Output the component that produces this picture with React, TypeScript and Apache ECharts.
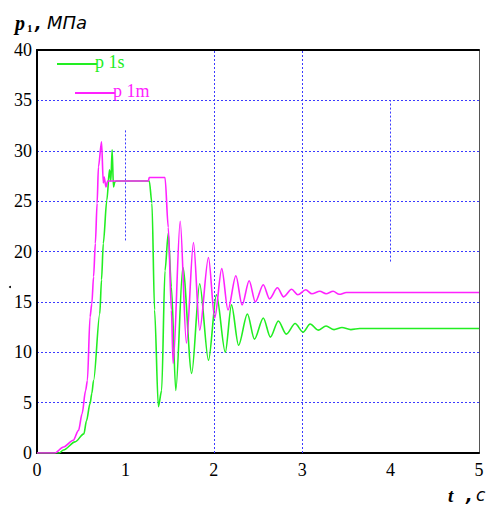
import React, { useEffect, useRef } from 'react';
import * as echarts from 'echarts';

// p1s (green) — time, value
const tP1s = [0, 0.25, 0.3, 0.43, 0.53, 0.56, 0.6, 0.62, 0.64, 0.71, 0.73, 0.75, 0.79, 0.82, 0.835, 0.85, 0.865, 0.88, 0.9, 1.27, 1.3, 1.33, 1.373, 1.41, 1.448, 1.485, 1.52, 1.57, 1.65, 1.75, 1.84, 1.94, 2.03, 2.13, 2.2, 2.28, 2.38, 2.46, 2.56, 2.64, 2.73, 2.82, 2.92, 3.01, 3.09, 3.18, 3.27, 3.36, 3.45, 3.55, 3.65, 5.0];
const vP1s = [0, 0, 0.3, 1.1, 1.9, 3.2, 4.9, 5.9, 7.2, 13.8, 17.2, 20.8, 25.1, 28.1, 27.0, 30.1, 26.4, 26.9, 27.0, 27.0, 24.8, 14.2, 4.6, 6.2, 18.1, 21.8, 16.5, 6.2, 18.4, 7.9, 16.8, 9.2, 15.7, 10.0, 14.7, 10.7, 13.8, 11.3, 13.4, 11.5, 13.1, 11.8, 12.85, 12.0, 12.8, 12.2, 12.6, 12.25, 12.45, 12.25, 12.35, 12.35];

// p1m (magenta) — time, value
const tP1m = [0, 0.2, 0.3, 0.41, 0.47, 0.51, 0.55, 0.57, 0.6, 0.62, 0.64, 0.66, 0.68, 0.695, 0.73, 0.75, 0.76, 0.78, 0.8, 1.26, 1.27, 1.448, 1.485, 1.52, 1.54, 1.62, 1.69, 1.77, 1.84, 1.94, 2.01, 2.09, 2.16, 2.25, 2.32, 2.4, 2.47, 2.56, 2.63, 2.72, 2.79, 2.88, 2.95, 3.04, 3.11, 3.2, 3.27, 3.35, 3.42, 3.5, 5.0];
const vP1m = [0, 0, 0.6, 1.26, 2.25, 3.9, 6.2, 7.2, 13.5, 14.8, 17.5, 20.8, 24.8, 28.4, 30.9, 26.8, 27.4, 26.4, 27.0, 27.0, 27.35, 27.35, 22.4, 14.2, 8.9, 23.0, 10.9, 20.9, 12.2, 19.4, 13.4, 18.3, 14.2, 17.6, 14.7, 17.1, 15.0, 16.7, 15.3, 16.4, 15.5, 16.25, 15.7, 16.2, 15.8, 16.05, 15.8, 16.05, 15.75, 15.93, 15.93];

const xTicks = [0, 1, 2, 3, 4, 5];
const yTicks = [0, 5, 10, 15, 20, 25, 30, 35, 40];
// vertical dotted guides: [t, from, to]
const vGuides = [
  [1, 21.1, 32.2],
  [2, 0, 40],
  [3, 0, 40],
  [4, 19, 35],
];
const seriesNames = ['p 1s', 'p 1m'];

const GREEN = '#22ee22';
const MAGENTA = '#ff22ff';
const GRIDBLUE = '#3a3aff';
const SERIF = '"Liberation Serif", "Times New Roman", serif';
const SANS = '"DejaVu Sans", Arial, sans-serif';

export default function App() {
  const ref = useRef<HTMLDivElement>(null);
  useEffect(() => {
    document.body.style.margin = '0';
    const chart = echarts.init(ref.current!, null, { renderer: 'svg' });
    const xMin = xTicks[0];
    const xMax = xTicks[xTicks.length - 1];
    const yMin = yTicks[0];
    const yMax = yTicks[yTicks.length - 1];
    const xInt = xTicks[1] - xTicks[0];
    const yInt = yTicks[1] - yTicks[0];
    chart.setOption({
      animation: false,
      backgroundColor: '#ffffff',
      grid: { left: 37, top: 50, width: 442, height: 403, containLabel: false },
      xAxis: [
        {
          type: 'value', min: xMin, max: xMax, interval: xInt, position: 'bottom',
          axisLine: { show: true, onZero: false, lineStyle: { color: '#000', width: 2 } },
          axisTick: { show: false },
          splitLine: { show: false },
          axisLabel: { fontFamily: SERIF, fontSize: 18, color: '#000', margin: 8 },
        },
        {
          type: 'value', min: xMin, max: xMax, interval: xInt, position: 'top',
          axisLine: { show: true, onZero: false, lineStyle: { color: '#000', width: 2 } },
          axisTick: { show: false }, splitLine: { show: false }, axisLabel: { show: false },
        },
      ],
      yAxis: [
        {
          type: 'value', min: yMin, max: yMax, interval: yInt, position: 'left',
          axisLine: { show: true, onZero: false, lineStyle: { color: '#000', width: 2 } },
          axisTick: { show: false },
          splitLine: { show: true, lineStyle: { color: GRIDBLUE, width: 1, type: [2, 2] } },
          axisLabel: { fontFamily: SERIF, fontSize: 18, color: '#000', margin: 5 },
        },
        {
          type: 'value', min: yMin, max: yMax, interval: yInt, position: 'right',
          axisLine: { show: true, onZero: false, lineStyle: { color: '#555', width: 1 } },
          axisTick: { show: false }, splitLine: { show: false }, axisLabel: { show: false },
        },
      ],
      series: [
        {
          name: seriesNames[0],
          type: 'line',
          data: tP1s.map((t, i) => [t, vP1s[i]]),
          showSymbol: false,
          smooth: 0.3,
          smoothMonotone: 'x',
          lineStyle: { color: GREEN, width: 1.6 },
          z: 3,
          markLine: {
            silent: true,
            symbol: 'none',
            label: { show: false },
            lineStyle: { color: GRIDBLUE, width: 1, type: [2, 2] },
            z: 1,
            data: vGuides.map(([t, a, b]) => [{ coord: [t, a] }, { coord: [t, b] }]),
          },
        },
        {
          name: seriesNames[1],
          type: 'line',
          data: tP1m.map((t, i) => [t, vP1m[i]]),
          showSymbol: false,
          smooth: 0.3,
          smoothMonotone: 'x',
          lineStyle: { color: MAGENTA, width: 1.6 },
          z: 4,
        },
      ],
      graphic: [
        // title p1 , МПа
        { type: 'text', x: 15, y: 23, style: { text: 'p', font: `italic bold 20px ${SERIF}`, fill: '#000', textVerticalAlign: 'middle' } },
        { type: 'text', x: 27, y: 28, style: { text: '1', font: `bold 11px ${SERIF}`, fill: '#000', textVerticalAlign: 'middle' } },
        { type: 'text', x: 35, y: 23, style: { text: ',', font: `italic bold 17px ${SANS}`, fill: '#000', textVerticalAlign: 'middle' } },
        { type: 'text', x: 47, y: 22.5, style: { text: 'МПа', font: `italic 18px ${SANS}`, fill: '#000', textVerticalAlign: 'middle' } },
        // axis title t , c
        { type: 'text', x: 448, y: 495, style: { text: 't', font: `italic bold 19px ${SERIF}`, fill: '#000', textVerticalAlign: 'middle' } },
        { type: 'text', x: 466, y: 495, style: { text: ',', font: `italic bold 17px ${SANS}`, fill: '#000', textVerticalAlign: 'middle' } },
        { type: 'text', x: 476, y: 495, style: { text: 'c', font: `italic 17px ${SANS}`, fill: '#000', textVerticalAlign: 'middle' } },
        // legend
        { type: 'line', shape: { x1: 57, y1: 64, x2: 97, y2: 64 }, style: { stroke: GREEN, lineWidth: 2 } },
        { type: 'text', x: 95, y: 62, style: { text: seriesNames[0], font: `18px ${SERIF}`, fill: GREEN, textVerticalAlign: 'middle' } },
        { type: 'line', shape: { x1: 75, y1: 93, x2: 115, y2: 93 }, style: { stroke: MAGENTA, lineWidth: 2 } },
        { type: 'text', x: 113, y: 90.5, style: { text: seriesNames[1], font: `18px ${SERIF}`, fill: MAGENTA, textVerticalAlign: 'middle' } },
        // stray dot at left
        { type: 'circle', shape: { cx: 10, cy: 287, r: 1 }, style: { fill: '#000' } },
      ],
    });
    return () => chart.dispose();
  }, []);
  return <div ref={ref} style={{ width: 487, height: 506 }} />;
}
